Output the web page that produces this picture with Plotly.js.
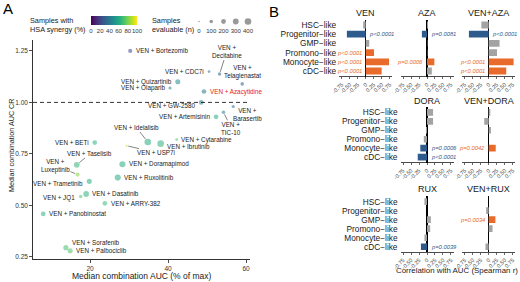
<!DOCTYPE html>
<html><head><meta charset="utf-8">
<script src="https://cdn.plot.ly/plotly-3.0.1.min.js"></script>
<style>html,body{margin:0;padding:0;background:#fff}#c{width:520px;height:282px}</style>
</head><body><div id="c"></div>
<script>
// ---------- Panel A data ----------
const drugs = ['Bortezomib','Decitabine','CDC7i','Telaglenastat','Quizartinib','Olaparib','Azacytidine','GW-2580','Barasertib','TIC-10','Artemisinin','Cytarabine','Ibrutinib','Idelalisib','USP7i','BETi','Taselisib','Doramapimod','Luxeptinib','Trametinib','Ruxolitinib','Dasatinib','JQ1','ARRY-382','Panobinostat','Sorafenib','Palbociclib'];
const medianAUC = [30.3,53.2,50.5,59.0,42.5,40.5,49.2,48.5,56.7,54.2,52.3,42.2,38.1,34.8,29.4,21.2,16.6,28.3,16.8,19.8,27.1,19.0,17.6,23.8,8.0,13.8,14.9];
const medianCR = [1.25,1.138,1.15,1.09,1.10,1.07,1.053,1.0,0.98,0.952,0.93,0.82,0.80,0.808,0.79,0.805,0.697,0.70,0.65,0.617,0.635,0.556,0.543,0.51,0.459,0.295,0.28];
const synergyPct = [22,32,36,30,48,40,40,42,38,40,62,68,64,62,88,65,66,62,82,62,62,64,72,68,64,70,72];
const samplesN = [150,100,50,100,230,75,190,190,75,100,190,45,400,400,20,190,290,340,150,230,340,290,100,190,190,230,230];
const sizeLegendVals = [0,100,200,300,400];
const synergyTicks = [0,20,40,60,80,100];
const xTicksA = [20,40,60];
const yTicksA = [0.25,0.50,0.75,1.00,1.25];
const yTickTextA = ['0.25','0.50','0.75','1.00','1.25'];

// ---------- Panel B data ----------
const cellTypes = ['HSC\u2212like','Progenitor\u2212like','GMP\u2212like','Promono\u2212like','Monocyte\u2212like','cDC\u2212like'];
const venR     = [-0.08,-0.59,0.11,0.26,0.73,0.50];
const venP     = [null,'p<0.0001',null,'p<0.0001','p<0.0001','p<0.0001'];
const azaR     = [0.03,-0.16,0.01,0.01,0.23,0.15];
const azaP     = [null,'p=0.0081',null,null,'p=0.0006',null];
const venAzaR  = [-0.23,-0.62,0.34,0.26,0.78,0.55];
const venAzaP  = [null,'p<0.0001',null,null,'p<0.0001','p<0.0001'];
const doraR    = [0.19,0.19,-0.03,-0.10,-0.21,-0.29];
const doraP    = [null,null,null,null,'p=0.0006','p<0.0001'];
const venDoraR = [0.05,-0.14,0.07,0.0,0.22,0.0];
const venDoraP = [null,null,null,null,'p=0.0042',null];
const ruxR     = [-0.08,0.0,0.12,0.10,-0.08,-0.19];
const ruxP     = [null,null,null,null,null,'p=0.0039'];
const venRuxR  = [0.0,-0.08,0.21,0.12,0.0,-0.10];
const venRuxP  = [null,null,'p=0.0034',null,null,null];
const corrTicks = [-0.75,-0.5,-0.25,0,0.25,0.5,0.75];
const corrTickText = ['-0.75','-0.50','-0.25','0','0.25','0.50','0.75'];

// ---------- layout helpers ----------
const W=520,H=282;
const fx=p=>p/W, fy=p=>1-p/H;
const FONT='Liberation Sans, Arial, Helvetica, sans-serif';
const dia=n=>Math.sqrt(1.5*1.5+(6.6*6.6-1.5*1.5)*n/400);

const labelStyle = {
 'Bortezomib':{side:'r'}, 'Decitabine':{ax:7,ay:-22,two:true}, 'CDC7i':{side:'l'},
 'Telaglenastat':{side:'up',two:true}, 'Quizartinib':{side:'l'}, 'Olaparib':{side:'l'},
 'Azacytidine':{side:'r'}, 'GW-2580':{side:'l',dy:-3}, 'Barasertib':{side:'c',dx:14,dy:-8,two:true},
 'TIC-10':{ax:8,ay:16,two:true}, 'Artemisinin':{side:'l'}, 'Cytarabine':{side:'r'},
 'Ibrutinib':{side:'r',dy:-3}, 'Idelalisib':{ax:-11,ay:-14}, 'USP7i':{ax:29,ay:7},
 'BETi':{side:'l'}, 'Taselisib':{ax:13,ay:-11}, 'Doramapimod':{side:'r'},
 'Luxeptinib':{ax:-22,ay:-9,two:true}, 'Trametinib':{side:'l',dy:-2.5}, 'Ruxolitinib':{side:'r'},
 'Dasatinib':{side:'r'}, 'JQ1':{side:'l',dy:-1}, 'ARRY-382':{side:'r'}, 'Panobinostat':{side:'r'},
 'Sorafenib':{side:'r',dy:5}, 'Palbociclib':{side:'r'}
};

const traces=[], annotations=[], shapes=[];
const layout = {
  width:W, height:H, margin:{l:0,r:0,t:0,b:0}, paper_bgcolor:'#fff', plot_bgcolor:'rgba(0,0,0,0)',
  showlegend:false, font:{family:FONT,color:'#1a1a1a'}
};

// Panel A axes
layout.xaxis = {domain:[fx(33),fx(250)], range:[5.38,61.0], tickvals:xTicksA, showgrid:false, zeroline:false,
  showline:true, linecolor:'#000', linewidth:0.8, ticks:'outside', ticklen:3, tickwidth:0.7, tickcolor:'#000',
  tickfont:{size:6.5,color:'#333'}, tickangle:0, anchor:'y'};
layout.yaxis = {domain:[fy(259),fy(40)], range:[0.240,1.303], tickvals:yTicksA, ticktext:yTickTextA, showgrid:false, zeroline:false,
  showline:true, linecolor:'#000', linewidth:0.8, ticks:'outside', ticklen:3, tickwidth:0.7, tickcolor:'#000',
  tickfont:{size:6.5,color:'#333'}, anchor:'x', ticklabelstandoff:0};

shapes.push({type:'line', xref:'x domain', yref:'y', x0:0, x1:1, y0:1, y1:1, line:{color:'#000',width:0.8,dash:'4px,3px'}});

traces.push({type:'scatter', mode:'markers', x:medianAUC, y:medianCR, xaxis:'x', yaxis:'y', cliponaxis:false,
  marker:{size:samplesN.map(dia), color:synergyPct, colorscale:'Viridis', cmin:0, cmax:100, opacity:0.55, line:{width:0},
    showscale:true, colorbar:{orientation:'h', x:fx(114), xanchor:'center', y:fy(15.7), yanchor:'top', yref:'paper',
      len:46, lenmode:'pixels', thickness:9, thicknessmode:'pixels', xpad:0, ypad:0, outlinewidth:0,
      tickvals:synergyTicks, ticks:'', tickangle:0, tickfont:{size:6,color:'#333'}}},
  hoverinfo:'skip'});

drugs.forEach((d,i)=>{
  const st=labelStyle[d]||{side:'r'};
  const r=dia(samplesN[i])/2;
  const a={xref:'x', yref:'y', x:medianAUC[i], y:medianCR[i], text: st.two?('VEN +<br>'+d):('VEN + '+d),
    font:{size:6.3, color: d==='Azacytidine'?'#e0201b':'#1a1a1a'}, align:'center', borderpad:0};
  if(st.ax!==undefined){
    Object.assign(a,{showarrow:true, ax:st.ax, ay:st.ay, arrowhead:0, arrowwidth:0.6, arrowcolor:'#333', standoff:r+0.5});
  } else if(st.side==='r'){
    Object.assign(a,{showarrow:false, xanchor:'left', yanchor:'middle', xshift:r+2.5, yshift:st.dy||0});
  } else if(st.side==='l'){
    Object.assign(a,{showarrow:false, xanchor:'right', yanchor:'middle', xshift:-(r+2.5), yshift:st.dy||0});
  } else if(st.side==='up'){
    Object.assign(a,{showarrow:false, xanchor:'center', yanchor:'bottom', yshift:r+1.5});
  } else {
    Object.assign(a,{showarrow:false, xanchor:'center', yanchor:'middle', xshift:st.dx||0, yshift:st.dy||0});
  }
  annotations.push(a);
});

// Size legend (own mini axis)
layout.xaxis9 = {domain:[fx(199),fx(248)], range:[0,400], tickvals:sizeLegendVals, showgrid:false, zeroline:false,
  showline:false, ticks:'', tickangle:0, tickfont:{size:6,color:'#333'}, anchor:'y9'};
layout.yaxis9 = {domain:[fy(26),fy(17)], range:[-1,1], visible:false, anchor:'x9'};
traces.push({type:'scatter', mode:'markers', x:sizeLegendVals, y:sizeLegendVals.map(()=>0), xaxis:'x9', yaxis:'y9',
  cliponaxis:false, marker:{size:sizeLegendVals.map(dia), color:'#6e6e6e', line:{width:0}}, hoverinfo:'skip'});

// Legend titles / panel letters / axis titles
annotations.push({xref:'paper',yref:'paper',x:fx(28),y:fy(25),xanchor:'left',yanchor:'middle',showarrow:false,align:'left',
  text:'Samples with<br>HSA synergy (%)', font:{size:7.3,color:'#1a1a1a'}});
annotations.push({xref:'paper',yref:'paper',x:fx(150),y:fy(25),xanchor:'left',yanchor:'middle',showarrow:false,align:'left',
  text:'Samples<br>evaluable (n)', font:{size:7.3,color:'#1a1a1a'}});
annotations.push({xref:'paper',yref:'paper',x:fx(1),y:fy(8),xanchor:'left',yanchor:'middle',showarrow:false,
  text:'A', font:{size:15,color:'#000'}});
annotations.push({xref:'paper',yref:'paper',x:fx(267),y:fy(11),xanchor:'left',yanchor:'middle',showarrow:false,
  text:'B', font:{size:15,color:'#000'}});
annotations.push({xref:'paper',yref:'paper',x:fx(141.5),y:fy(276),xanchor:'center',yanchor:'middle',showarrow:false,
  text:'Median combination AUC (% of max)', font:{size:8.5,color:'#1a1a1a'}});
annotations.push({xref:'paper',yref:'paper',x:fx(11),y:fy(146),xanchor:'center',yanchor:'middle',showarrow:false,textangle:-90,
  text:'Median combination AUC CR', font:{size:7.2,color:'#1a1a1a'}});
annotations.push({xref:'paper',yref:'paper',x:fx(457),y:fy(270),xanchor:'center',yanchor:'middle',showarrow:false,
  text:'Correlation with AUC (Spearman r)', font:{size:7.9,color:'#1a1a1a'}});

// ---------- Panel B ----------
const colZero=[365.7,427,488.7];
const halfW=26.5;
const rows=[{top:19.5,bot:76.5,title:13.3},{top:107,bot:162.5,title:100.7},{top:196.2,bot:252.2,title:189}];
const panels=[
 {name:'VEN',row:0,col:0,r:venR,p:venP},
 {name:'AZA',row:0,col:1,r:azaR,p:azaP},
 {name:'VEN+AZA',row:0,col:2,r:venAzaR,p:venAzaP},
 {name:'DORA',row:1,col:1,r:doraR,p:doraP},
 {name:'VEN+DORA',row:1,col:2,r:venDoraR,p:venDoraP},
 {name:'RUX',row:2,col:1,r:ruxR,p:ruxP},
 {name:'VEN+RUX',row:2,col:2,r:venRuxR,p:venRuxP}
];
const BLUE='#2d5b8e', ORANGE='#e96b2b', GREY='#a3a3a3';
panels.forEach((pn,k)=>{
  const idx=k+2, xa='x'+idx, ya='y'+idx;
  const z=colZero[pn.col], rw=rows[pn.row];
  const firstInRow = (pn.row===0&&pn.col===0)||(pn.row>0&&pn.col===1);
  layout['xaxis'+idx]={domain:[fx(z-halfW),fx(z+halfW)], range:[-0.83,0.83], anchor:ya, tickvals:corrTicks, ticktext:corrTickText,
    tickangle:-45, tickfont:{size:5.5,color:'#333'}, ticks:'outside', ticklen:2, tickwidth:0.6, tickcolor:'#000',
    showgrid:false, showline:true, linecolor:'#000', linewidth:0.7, zeroline:true, zerolinecolor:'#000', zerolinewidth:1.2};
  layout['yaxis'+idx]={domain:[fy(rw.bot),fy(rw.top)], type:'category', categoryorder:'array', categoryarray:cellTypes,
    tickmode:'array', tickvals:cellTypes, ticktext:cellTypes,
    range:[5.6,-0.6], anchor:xa, showgrid:false, zeroline:false, showline:false, ticks:'',
    showticklabels:firstInRow, tickfont:{size:8.3,color:'#1a1a1a'}, ticklabelstandoff:2};
  traces.push({type:'bar', orientation:'h', x:pn.r, y:cellTypes, xaxis:xa, yaxis:ya, width:0.74,
    marker:{color:pn.r.map((v,i)=>pn.p[i]?(v<0?BLUE:ORANGE):GREY), line:{width:0}}, hoverinfo:'skip'});
  annotations.push({xref:'paper',yref:'paper',x:fx(z),y:fy(rw.title),xanchor:'center',yanchor:'middle',showarrow:false,
    text:pn.name, font:{size:9,color:'#1a1a1a'}});
  pn.p.forEach((p,i)=>{
    if(!p) return;
    const neg=pn.r[i]<0;
    annotations.push({xref:xa,yref:ya,x:0,y:cellTypes[i],xanchor:neg?'left':'right',yanchor:'middle',
      xshift:neg?1.5:-2, showarrow:false, text:'<i>'+p+'</i>', font:{size:5.8,color:neg?BLUE:ORANGE}});
  });
});

layout.annotations=annotations;
layout.shapes=shapes;
Plotly.newPlot('c',traces,layout,{staticPlot:true,displayModeBar:false});
</script></body></html>
